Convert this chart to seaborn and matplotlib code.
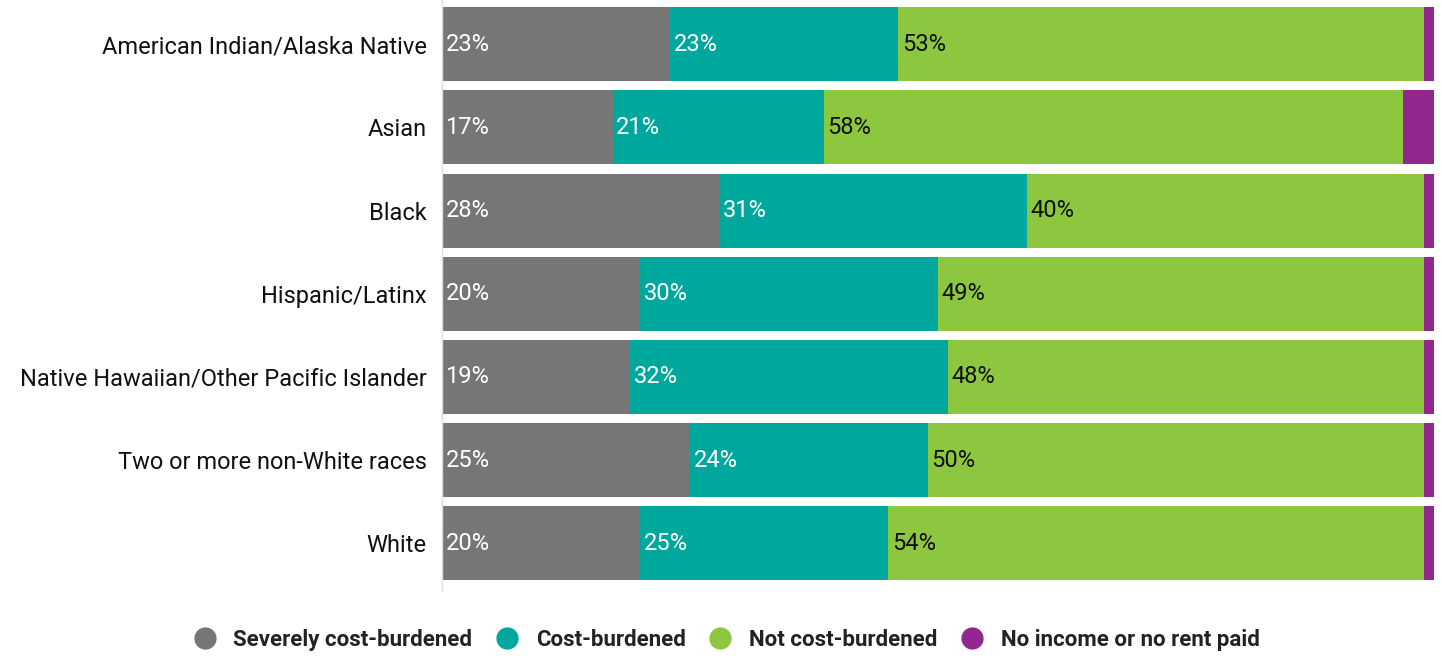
import matplotlib.pyplot as plt
import seaborn as sns
import pandas as pd
import numpy as np
from matplotlib.lines import Line2D

groups = ["American Indian/Alaska Native", "Asian", "Black", "Hispanic/Latinx",
          "Native Hawaiian/Other Pacific Islander", "Two or more non-White races", "White"]
severe = [23, 17.2, 28, 20, 19, 25, 20]
burdened = [23, 21.3, 31, 30, 32, 24, 25]
not_burdened = [53, 58.4, 40, 49, 48, 50, 54]
no_income = [1, 3.1, 1, 1, 1, 1, 1]

series = ["Severely cost-burdened", "Cost-burdened", "Not cost-burdened", "No income or no rent paid"]
colors = ["#767676", "#00A79D", "#8DC63F", "#92278F"]
label_colors = ["white", "white", "#111111", None]

sns.set_style("white")
plt.rcParams['font.family'] = ['Roboto', 'DejaVu Sans']

df = pd.DataFrame({"group": groups, series[0]: severe, series[1]: burdened,
                   series[2]: not_burdened, series[3]: no_income})
cum = df[series].cumsum(axis=1)

fig = plt.figure(figsize=(14.42, 6.63), dpi=100)
ax = fig.add_axes([442 / 1442, 73 / 663, 992 / 1442, 590 / 663])

# draw cumulative totals from the longest down so the shorter ones sit on top
for s, c in reversed(list(zip(series, colors))):
    sns.barplot(x=cum[s], y=df["group"], color=c, orient="h", width=0.89,
                saturation=1, ax=ax, linewidth=0)

for i, s in enumerate(series):
    if label_colors[i] is None:
        continue
    left = cum[s] - df[s]
    for j, v in enumerate(df[s]):
        ax.text(left[j] + 0.35, j, f"{v:.0f}%", color=label_colors[i],
                va="center", ha="left", fontsize=17)

ax.set_xlim(0, 100)
ax.set_ylim(6.56, -0.53)
ax.set_xlabel("")
ax.set_ylabel("")
ax.set_xticks([])
ax.tick_params(axis="y", length=0, pad=11, labelsize=17, labelcolor="#111111")
for sp in ["top", "right", "bottom"]:
    ax.spines[sp].set_visible(False)
ax.spines["left"].set_color("#dddddd")
ax.spines["left"].set_linewidth(1)

handles = [Line2D([0], [0], marker="o", linestyle="", markersize=15,
                  markerfacecolor=c, markeredgecolor=c) for c in colors]
leg = fig.legend(handles, series, loc="center", bbox_to_anchor=(0.5, 23 / 663),
                 ncol=4, frameon=False, handletextpad=0.3, columnspacing=0.55,
                 prop={"weight": "bold", "size": 16})
for t in leg.get_texts():
    t.set_color("#222222")

fig.savefig("out.png", dpi=100)
